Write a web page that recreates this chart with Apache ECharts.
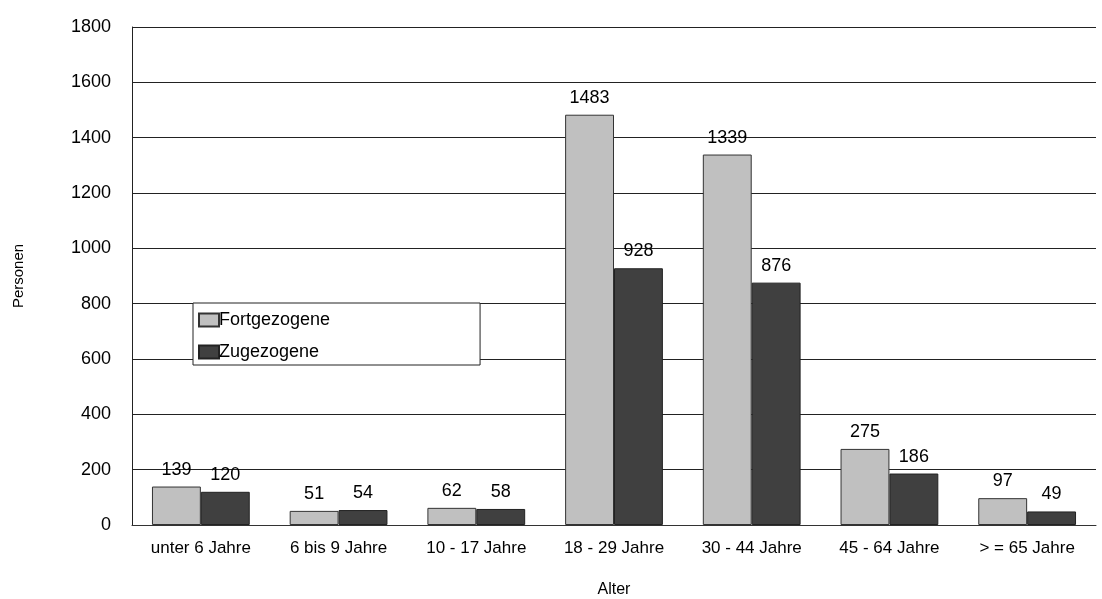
<!DOCTYPE html>
<html>
<head>
<meta charset="utf-8">
<script src="https://cdn.jsdelivr.net/npm/echarts@6/dist/echarts.min.js"></script>
<style>
    html, body { margin: 0; padding: 0; background: #fff; }
    #main { width: 1102px; height: 599px; }
</style>
</head>
<body>
<div id="main"></div>
<script>
// Altersgruppen
var categories = ['unter 6 Jahre', '6 bis 9 Jahre', '10 - 17 Jahre', '18 - 29 Jahre', '30 - 44 Jahre', '45 - 64 Jahre', '> = 65 Jahre'];
var fortgezogene = [139, 51, 62, 1483, 1339, 275, 97];
var zugezogene = [120, 54, 58, 928, 876, 186, 49];
var yTicks = [0, 200, 400, 600, 800, 1000, 1200, 1400, 1600, 1800];

var fontFam = '"Liberation Sans", "DejaVu Sans", sans-serif';
var chart = echarts.init(document.getElementById('main'));

var option = {
    animation: false,
    textStyle: { fontFamily: fontFam },
    grid: { left: 132, right: 6, top: 27, bottom: 74, outerBoundsMode: 'none' },
    legend: {
        left: 193, top: 303,
        orient: 'vertical',
        icon: 'rect',
        itemWidth: 20, itemHeight: 13, itemGap: 14,
        padding: [8, 150, 4, 5],
        borderColor: '#222', borderWidth: 1,
        backgroundColor: '#fff',
        textStyle: { fontSize: 18, color: '#000', fontFamily: fontFam, padding: [0, 0, 0, -5] },
        data: ['Fortgezogene', 'Zugezogene']
    },
    xAxis: {
        type: 'category',
        data: categories,
        name: 'Alter',
        nameLocation: 'middle',
        nameGap: 57,
        nameTextStyle: { fontSize: 16, color: '#000' },
        axisLine: { lineStyle: { color: '#333', width: 1 } },
        axisTick: { show: false },
        axisLabel: { fontSize: 17, color: '#000', margin: 15 }
    },
    yAxis: {
        type: 'value',
        min: yTicks[0],
        max: yTicks[yTicks.length - 1],
        interval: 200,
        name: 'Personen',
        nameLocation: 'middle',
        nameGap: 106,
        nameTextStyle: { fontSize: 15, color: '#000' },
        axisLine: { show: true, lineStyle: { color: '#222', width: 1 } },
        axisTick: { show: false },
        axisLabel: { fontSize: 18, color: '#000', margin: 21, formatter: function (v) { return String(v); } },
        splitLine: { lineStyle: { color: '#222', width: 1 } }
    },
    series: [
        {
            name: 'Fortgezogene',
            type: 'bar',
            data: fortgezogene,
            barGap: '0%',
            barCategoryGap: '29%',
            itemStyle: { color: '#c0c0c0', borderColor: '#333', borderWidth: 1 },
            label: { show: true, position: 'top', distance: 8, fontSize: 18, color: '#000' }
        },
        {
            name: 'Zugezogene',
            type: 'bar',
            data: zugezogene,
            itemStyle: { color: '#404040', borderColor: '#222', borderWidth: 1 },
            label: { show: true, position: 'top', distance: 8, fontSize: 18, color: '#000' }
        }
    ]
};
chart.setOption(option);
</script>
</body>
</html>
